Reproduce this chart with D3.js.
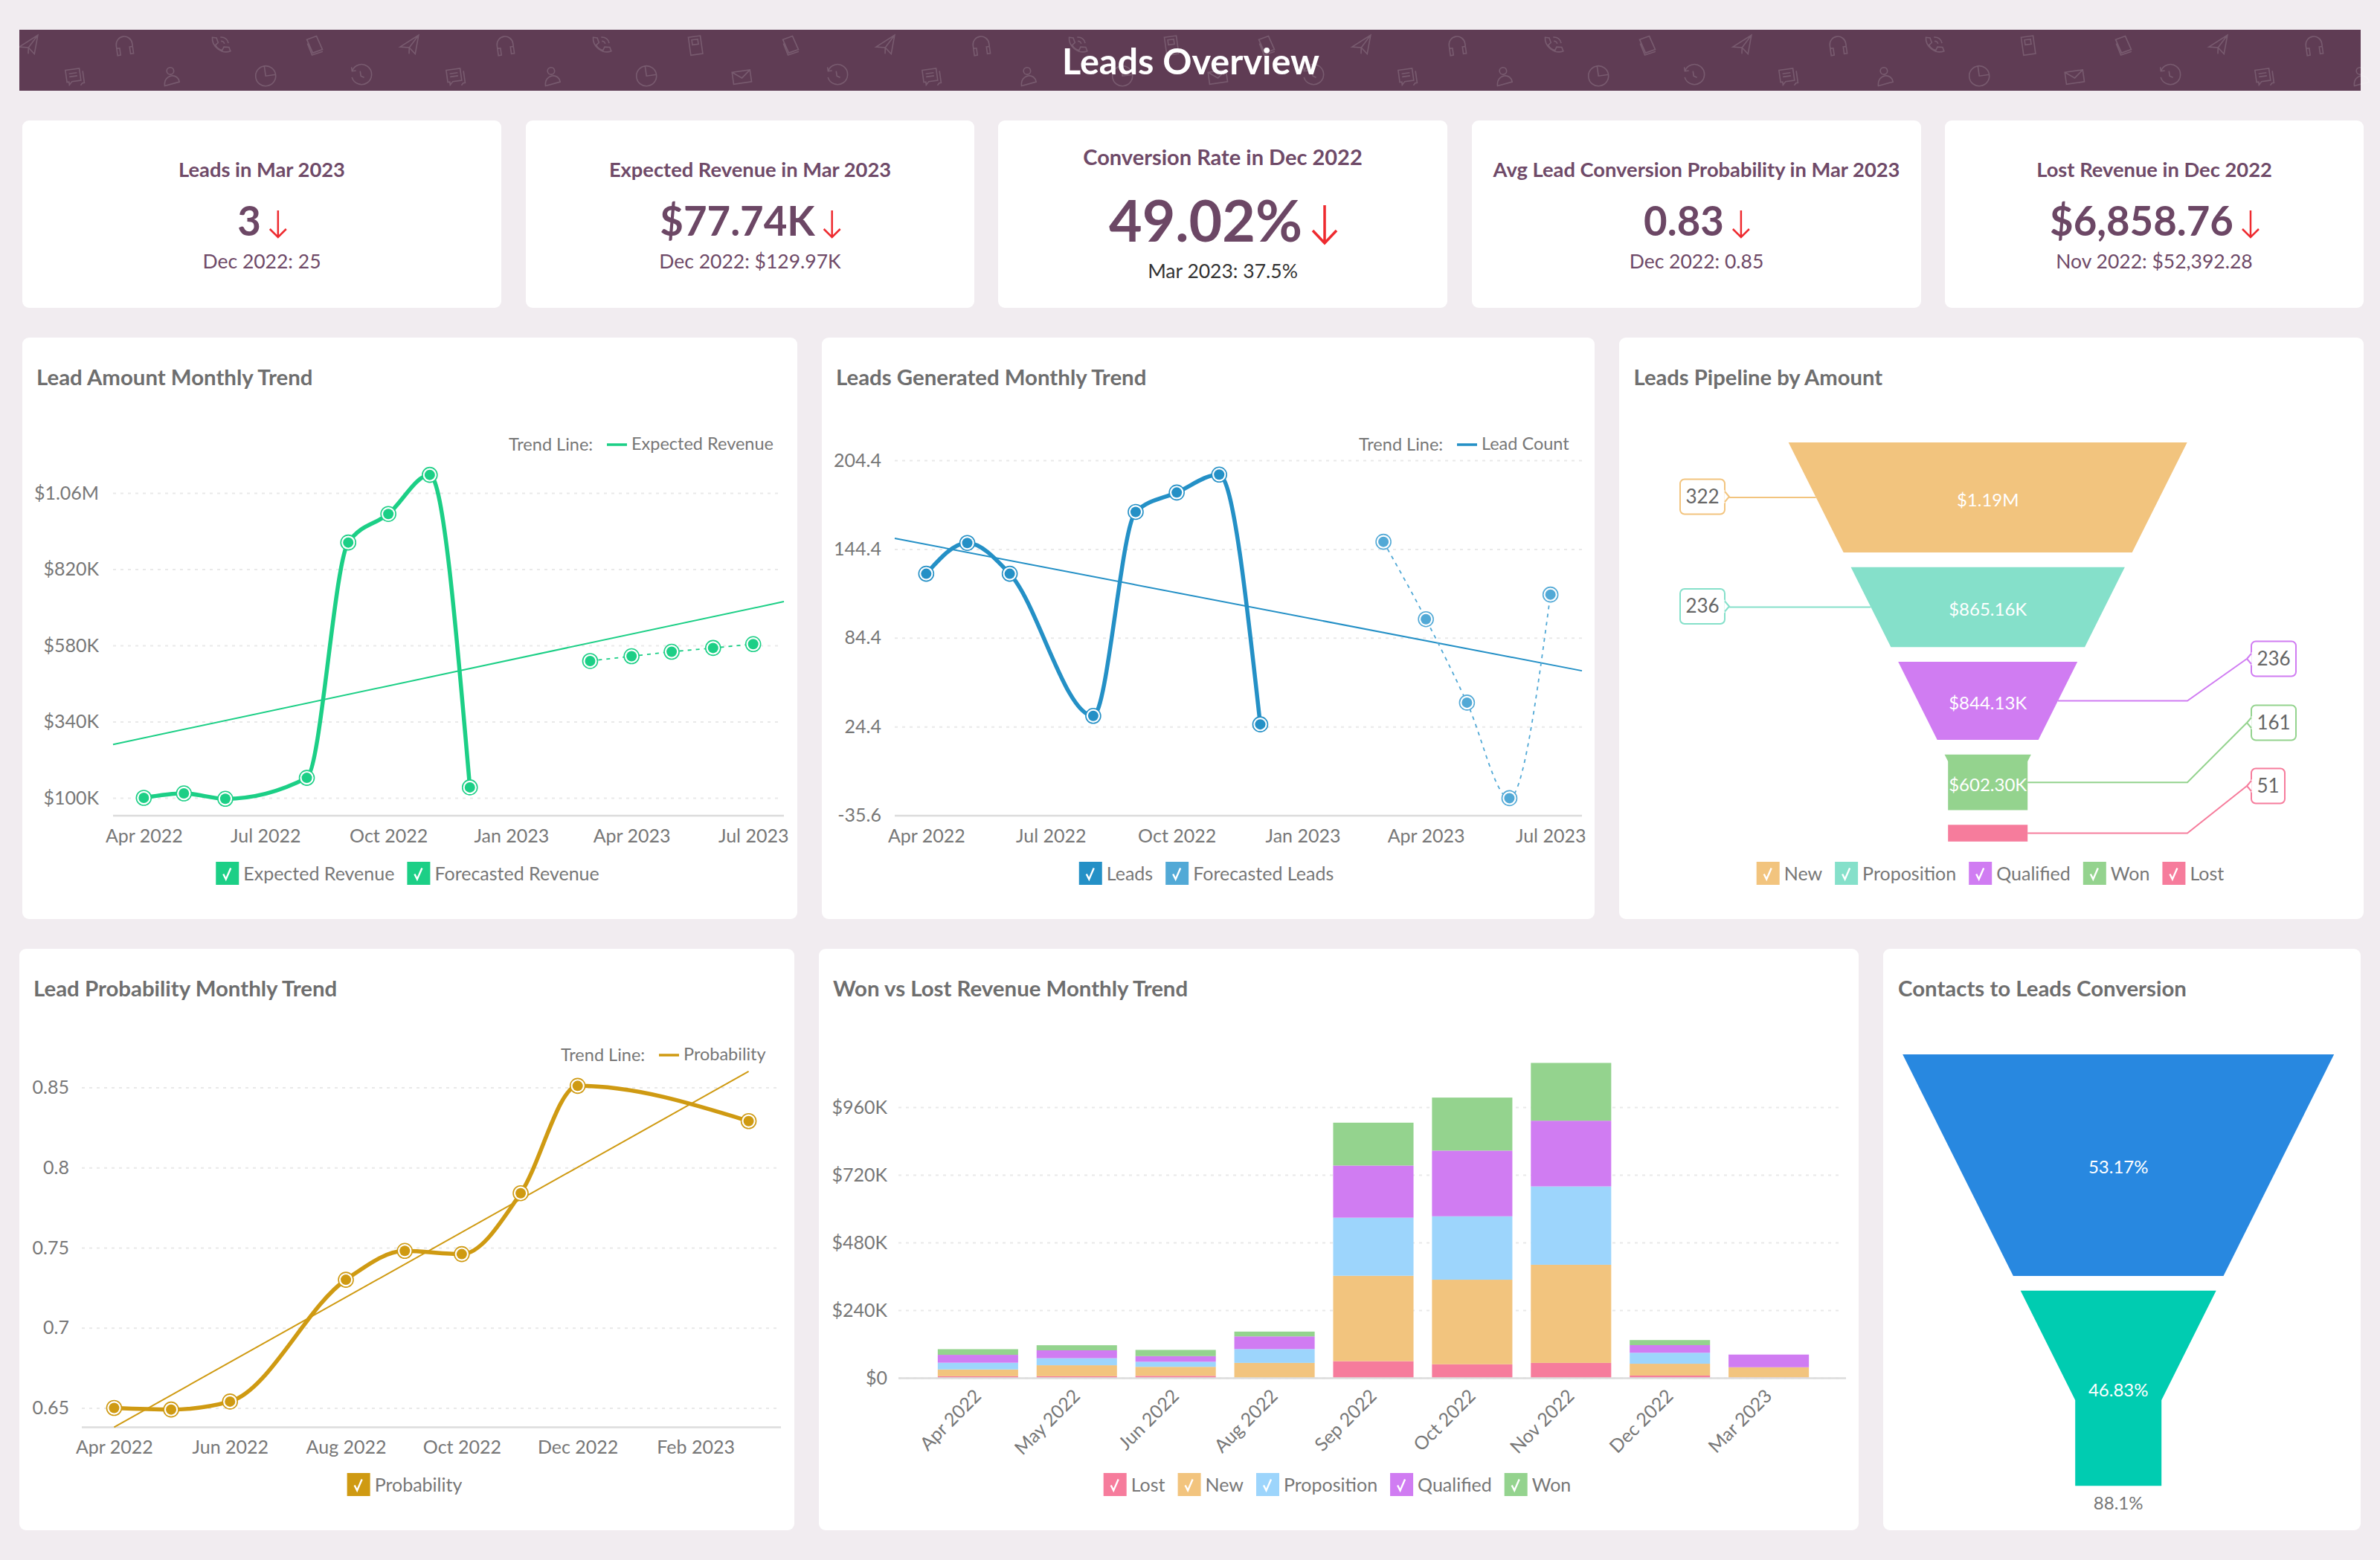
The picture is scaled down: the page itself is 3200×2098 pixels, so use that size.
<!DOCTYPE html>
<html>
<head>
<meta charset="utf-8">
<script src="https://cdn.jsdelivr.net/npm/d3@7"></script>
<style>
  body { margin: 0; background: #f1ecf0; }
  text { font-family: Lato, "Open Sans", sans-serif; }
  .grid line { stroke: #e9e9e9; stroke-width: 2; stroke-dasharray: 4 6; }
  .tick text { fill: #777; font-size: 25px; }
</style>
</head>
<body>
<svg id="dash" width="3200" height="2098"></svg>
<script>
// KPI cards
const kpiTitles = ["Leads in Mar 2023", "Expected Revenue in Mar 2023", "Conversion Rate in Dec 2022", "Avg Lead Conversion Probability in Mar 2023", "Lost Revenue in Dec 2022"];
const kpiValues = ["3", "$77.74K", "49.02%", "0.83", "$6,858.76"];
const kpiPrevious = ["Dec 2022: 25", "Dec 2022: $129.97K", "Mar 2023: 37.5%", "Dec 2022: 0.85", "Nov 2022: $52,392.28"];

// Lead amount
const actualMonths = ["Apr 2022", "May 2022", "Jun 2022", "Aug 2022", "Sep 2022", "Oct 2022", "Nov 2022", "Dec 2022"];
const forecastMonths = ["Mar 2023", "Apr 2023", "May 2023", "Jun 2023", "Jul 2023"];
const expectedRevenue = [100000, 114000, 97000, 163000, 904000, 994000, 1117000, 133000];
const forecastedRevenue = [531000, 546000, 560000, 572000, 584000];
const revenueTrend = [268000, 718000];
const revenueTicks = [100000, 340000, 580000, 820000, 1060000];
const revenueTickLabels = ["$100K", "$340K", "$580K", "$820K", "$1.06M"];
const trendXTicks = ["Apr 2022", "Jul 2022", "Oct 2022", "Jan 2023", "Apr 2023", "Jul 2023"];

// Leads generated
const leadCounts = [127.7, 148.5, 127.7, 31.6, 169.5, 182.6, 194.7, 25.9];
const forecastedLeads = [149.3, 97, 40.6, -24, 113.6];
const leadTrend = [151.6, 62.1];
const leadTicks = [-35.6, 24.4, 84.4, 144.4, 204.4];

// Probability
const probMonths = ["Apr 2022", "May 2022", "Jun 2022", "Aug 2022", "Sep 2022", "Oct 2022", "Nov 2022", "Dec 2022", "Mar 2023"];
const probValues = [0.65, 0.649, 0.654, 0.73, 0.748, 0.746, 0.784, 0.851, 0.829];
const probTrend = [0.638, 0.86];
const probTicks = [0.65, 0.7, 0.75, 0.8, 0.85];
const probXTicks = ["Apr 2022", "Jun 2022", "Aug 2022", "Oct 2022", "Dec 2022", "Feb 2023"];

// Pipeline funnel
const stages = ["New", "Proposition", "Qualified", "Won", "Lost"];
const stageAmounts = [1190000, 865160, 844130, 602300, 180000];
const stageAmountLabels = ["$1.19M", "$865.16K", "$844.13K", "$602.30K", ""];
const stageCounts = [322, 236, 236, 161, 51];

// Won vs lost stacked bars
const barMonths = ["Apr 2022", "May 2022", "Jun 2022", "Aug 2022", "Sep 2022", "Oct 2022", "Nov 2022", "Dec 2022", "Mar 2023"];
const barLost = [5600, 5600, 7000, 0, 59000, 48000, 53000, 8000, 1500];
const barNew = [24000, 39000, 32000, 53000, 303000, 300000, 348000, 42000, 36000];
const barProposition = [24000, 25000, 18000, 49000, 206000, 225000, 278000, 39000, 0];
const barQualified = [28000, 28000, 20000, 45000, 185000, 233000, 233000, 27000, 45000];
const barWon = [20000, 18000, 22000, 17000, 152000, 188000, 205000, 18000, 0];
const barTicks = [0, 240000, 480000, 720000, 960000];
const barTickLabels = ["$0", "$240K", "$480K", "$720K", "$960K"];

// Contacts funnel
const contactShares = [53.17, 46.83];
const contactConversion = "88.1%";

// header decoration order
const iconsTop = ["plane","headset","phone","book","plane","headset","phone","tablet","book","plane","headset","phone","tablet","book","plane","headset","phone","book","plane","headset","phone","tablet","book","plane","headset"];
const iconsBottom = ["chat","person","pie","clock","chat","person","pie","mail","clock","chat","person","pie","mail","clock","chat","person","pie","clock","chat","person","pie","mail","clock","chat","person"];
const iconPaths = {
  plane: "M2 12 L22 3 L16 21 L11 14 Z M11 14 L22 3 M11 14 L10 20",
  headset: "M4 14 V11 a8 8 0 0 1 16 0 V14 M4 14 h3 v7 h-3 z M17 14 h3 v7 h-3 z",
  phone: "M6 3 l4 1 1 5 -3 2 c1 3 3 5 6 6 l2 -3 5 1 1 4 c-9 2 -18 -7 -16 -16 z M14 8 a3 3 0 0 1 3 3 M14 4 a7 7 0 0 1 7 7",
  book: "M5 5 l10 -2 4 14 -10 2 z M5 5 l4 14 M5 9 l3 12 11 -2",
  tablet: "M6 3 h12 v18 h-12 z M9 6 h6 v5 h-6 z",
  chat: "M3 5 h14 v12 h-9 l-3 3 v-3 h-2 z M6 9 h8 M6 12 h8 M20 8 v12 h-2 l-2 2",
  person: "M9 7 a3.5 3.5 0 1 1 7 0 a3.5 3.5 0 1 1 -7 0 M5 21 c0 -6 4 -9 8 -9 s7 3 7 7 z",
  pie: "M2 12 a10 10 0 1 0 20 0 a10 10 0 1 0 -20 0 M12 2 v10 h10",
  clock: "M4 6 a10 10 0 1 1 -1 6 M4 2 v4 h4 M12 7 v5 l3 2",
  mail: "M3 7 h18 v12 h-18 z M3 7 l9 7 9 -7"
};

const green = "#1ccf86", blue = "#2490c6", lightBlue = "#52a9d6", gold = "#cf9a12";
const stageColors = { New: "#f2c47e", Proposition: "#85e0ca", Qualified: "#d07cf2", Won: "#94d38e", Lost: "#f67c9c" };
const barColors = { Lost: "#f67c9c", New: "#f2c47e", Proposition: "#9dd5fc", Qualified: "#d07cf2", Won: "#94d38e" };

const svg = d3.select("#dash");
const parseMonth = d3.timeParse("%b %Y");
const monthLabel = d3.timeFormat("%b %Y");

function card(x0, x1, y0, y1) {
  svg.append("rect").attr("x", x0).attr("y", y0).attr("width", x1 - x0).attr("height", y1 - y0)
    .attr("rx", 9).attr("fill", "#fff");
}

function label(parent, x, y, str, size, color, weight, anchor) {
  return parent.append("text").attr("x", x).attr("y", y).text(str)
    .attr("font-size", size).attr("fill", color)
    .attr("font-weight", weight || 400).attr("text-anchor", anchor || "start");
}

// ---- header
svg.append("rect").attr("x", 26).attr("y", 40).attr("width", 3148).attr("height", 82).attr("fill", "#5f3c54");
function iconRow(names, x0, y) {
  svg.append("g").selectAll("path").data(names).join("path")
    .attr("d", d => iconPaths[d])
    .attr("transform", (d, i) => `translate(${x0 + i * 128 - 15},${y - 17}) scale(1.35) rotate(-8 12 12)`)
    .attr("fill", "none").attr("stroke", "#fff").attr("stroke-opacity", 0.16).attr("stroke-width", 1.2);
}
iconRow(iconsTop, 38, 62);
iconRow(iconsBottom, 100, 103);
label(svg, 1601, 100, "Leads Overview", 48.6, "#fff", 700, "middle");

// ---- KPI cards
const kpiCards = [[30, 674], [707, 1310], [1342, 1946], [1979, 2583], [2615, 3178]];
kpiCards.forEach((c, i) => {
  card(c[0], c[1], 162, 414);
  const cx = (c[0] + c[1]) / 2;
  const big = i === 2;
  label(svg, cx, big ? 222 : 238, kpiTitles[i], big ? 29 : 27.3, "#6f4a68", 700, "middle");
  const val = label(svg, 0, big ? 325 : 317, kpiValues[i], big ? 77 : 54.5, "#6c4765", 700);
  const w = val.node().getComputedTextLength();
  const gap = big ? 30 : 23;
  const half = big ? 16 : 11;
  const start = cx - (w + gap + half) / 2;
  val.attr("x", start);
  const ax = start + w + gap;
  const y0 = big ? 276 : 283, y1 = big ? 327 : 319, hh = big ? 17 : 11;
  svg.append("path")
    .attr("d", `M${ax},${y0}V${y1}M${ax - half},${y1 - hh}L${ax},${y1}L${ax + half},${y1 - hh}`)
    .attr("fill", "none").attr("stroke", "#ee2b30").attr("stroke-width", big ? 3.5 : 2.5);
  label(svg, cx, big ? 374 : 361, kpiPrevious[i], 26.5, big ? "#333" : "#6f4a68", 400, "middle");
});

function legend(items, cx, y) {
  const g = svg.append("g");
  let x = 0;
  items.forEach(it => {
    g.append("rect").attr("x", x).attr("y", y - 15.5).attr("width", 31).attr("height", 31).attr("fill", it.color);
    g.append("path").attr("d", `M${x + 10},${y + 1}L${x + 13.5},${y + 8}L${x + 20},${y - 7}`)
      .attr("fill", "none").attr("stroke", "#fff").attr("stroke-width", 2.4);
    const t = label(g, x + 37, y + 9, it.name, 25, "#777");
    x += 37 + t.node().getComputedTextLength() + 17;
  });
  g.attr("transform", `translate(${cx - (x - 17) / 2},0)`);
}

function trendKey(x, y, name, color) {
  label(svg, x, y + 8, "Trend Line:", 23.5, "#777");
  svg.append("line").attr("x1", x + 132).attr("x2", x + 159).attr("y1", y).attr("y2", y)
    .attr("stroke", color).attr("stroke-width", 3.5);
  label(svg, x + 165, y + 7, name, 23.5, "#777");
}

// line chart with spline series, optional forecast and a straight trend line
function lineChart(o) {
  const x = d3.scaleTime().domain(o.xDomain.map(d => new Date(d))).range(o.xRange);
  const y = d3.scaleLinear().domain(o.yDomain).range(o.yRange);
  const g = svg.append("g");

  g.append("g").attr("class", "grid").attr("transform", `translate(${o.xRange[0]},0)`)
    .call(d3.axisLeft(y).tickValues(o.yTicks).tickSize(-(o.gridEnd - o.xRange[0])).tickPadding(o.tickPad)
      .tickFormat((d, i) => o.yLabels[i]))
    .call(a => a.select(".domain").remove());

  g.append("line").attr("x1", o.xRange[0]).attr("x2", o.xRange[1]).attr("y1", o.axisY).attr("y2", o.axisY)
    .attr("stroke", "#dcdcdc").attr("stroke-width", 2.5);
  g.append("g").attr("transform", `translate(0,${o.axisY})`)
    .call(d3.axisBottom(x).tickValues(o.xTicks.map(parseMonth)).tickSize(0).tickPadding(18).tickFormat(monthLabel))
    .call(a => a.select(".domain").remove());

  const line = d3.line().x(d => x(d.date)).y(d => y(d.value));
  const pts = (months, vals) => months.map((m, i) => ({ date: parseMonth(m), value: vals[i] }));

  g.append("path").datum(o.trendDates.map((d, i) => ({ date: new Date(d), value: o.trend[i] })))
    .attr("d", line).attr("fill", "none").attr("stroke", o.color).attr("stroke-width", 2);

  const series = [{ data: pts(o.months, o.values), color: o.color, width: 5.5, dash: null }];
  if (o.fcMonths) series.push({ data: pts(o.fcMonths, o.fcValues), color: o.fcColor, width: 1.8, dash: "5 6" });
  series.forEach(s => {
    g.append("path").datum(s.data).attr("d", line.curve(d3.curveMonotoneX))
      .attr("fill", "none").attr("stroke", s.color).attr("stroke-width", s.width)
      .attr("stroke-dasharray", s.dash);
    line.curve(d3.curveLinear);
    g.append("g").selectAll("circle").data(s.data).join("circle")
      .attr("cx", d => x(d.date)).attr("cy", d => y(d.value)).attr("r", 10)
      .attr("fill", "#fff").attr("stroke", s.color).attr("stroke-width", 1.6);
    g.append("g").selectAll("circle").data(s.data).join("circle")
      .attr("cx", d => x(d.date)).attr("cy", d => y(d.value)).attr("r", 7).attr("fill", s.color);
  });
}

// ---- row 2
card(30, 1072, 454, 1236);
label(svg, 49, 518, "Lead Amount Monthly Trend", 29.4, "#6e6e6e", 700);
trendKey(684, 598, "Expected Revenue", green);
lineChart({
  xDomain: ["2022-03-09T00:00", "2023-07-24T00:00"], xRange: [152, 1054], gridEnd: 1050,
  yDomain: [100000, 1060000], yRange: [1073, 663], axisY: 1097, tickPad: 19,
  yTicks: revenueTicks, yLabels: revenueTickLabels, xTicks: trendXTicks,
  months: actualMonths, values: expectedRevenue, color: green,
  fcMonths: forecastMonths, fcValues: forecastedRevenue, fcColor: green,
  trendDates: ["2022-03-09T00:00", "2023-07-24T00:00"], trend: revenueTrend
});
legend([{ name: "Expected Revenue", color: green }, { name: "Forecasted Revenue", color: green }], 548, 1174.5);

card(1105, 2144, 454, 1236);
label(svg, 1124, 518, "Leads Generated Monthly Trend", 29.4, "#6e6e6e", 700);
trendKey(1827, 598, "Lead Count", blue);
lineChart({
  xDomain: ["2022-03-09T00:00", "2023-07-24T00:00"], xRange: [1203, 2127], gridEnd: 2127,
  yDomain: [-35.6, 204.4], yRange: [1096.5, 619], axisY: 1097, tickPad: 18,
  yTicks: leadTicks, yLabels: leadTicks.map(String), xTicks: trendXTicks,
  months: actualMonths, values: leadCounts, color: blue,
  fcMonths: forecastMonths, fcValues: forecastedLeads, fcColor: lightBlue,
  trendDates: ["2022-03-09T00:00", "2023-07-24T00:00"], trend: leadTrend
});
legend([{ name: "Leads", color: blue }, { name: "Forecasted Leads", color: lightBlue }], 1622, 1174.5);

// funnel segments: heights follow the values, width narrows to a neck
function funnel(values, o) {
  const h = d3.scaleLinear().domain([0, o.maxValue]).range([0, o.maxHeight]);
  const width = d3.scaleLinear().domain([o.topY, o.neckY]).range([o.topW, o.neckW]).clamp(true);
  let cur = o.topY;
  return values.map(v => {
    const y0 = cur, y1 = cur + h(v);
    cur = y1 + o.gap;
    const ys = y0 < o.neckY && y1 > o.neckY ? [y0, o.neckY, y1] : [y0, y1];
    const poly = ys.map(y => [o.cx + width(y) / 2, y]).concat(ys.slice().reverse().map(y => [o.cx - width(y) / 2, y]));
    const mid = (y0 + y1) / 2;
    return { poly, y0, y1, mid, halfMid: width(mid) / 2 };
  });
}
const polyPath = d3.line().curve(d3.curveLinearClosed);

// ---- pipeline funnel
card(2177, 3178, 454, 1236);
label(svg, 2196.5, 518, "Leads Pipeline by Amount", 29.2, "#6e6e6e", 700);
const pipeCx = 2672.7;
const pipeSegs = funnel(stageAmounts, { cx: pipeCx, topY: 595, neckY: 1024, topW: 536, neckW: 107, gap: 19.7, maxValue: 1190000, maxHeight: 148 });
const calloutY = [668, 815.5, 886, 972, 1057];
pipeSegs.forEach((s, i) => {
  const color = stageColors[stages[i]];
  svg.append("path").attr("d", polyPath(s.poly)).attr("fill", color);
  if (stageAmountLabels[i]) label(svg, pipeCx, s.mid + 12, stageAmountLabels[i], 24, "#fff", 400, "middle");

  const left = i < 2;
  const boxW = String(stageCounts[i]).length === 2 ? 45 : 60;
  const boxX = left ? 2259 : 3027;
  const cy = calloutY[i];
  const tipX = left ? boxX + boxW + 6 : boxX - 6;
  const edge = pipeCx + (left ? -s.halfMid : s.halfMid);
  const conn = left ? `M${tipX},${s.mid}H${edge}` : `M${edge},${s.mid}H2941L${tipX},${cy}`;
  svg.append("path").attr("d", conn).attr("fill", "none").attr("stroke", color).attr("stroke-width", 2);
  svg.append("rect").attr("x", boxX).attr("y", cy - 23.5).attr("width", boxW).attr("height", 47).attr("rx", 6)
    .attr("fill", "#fff").attr("stroke", color).attr("stroke-width", 2);
  const edgeX = left ? boxX + boxW : boxX;
  svg.append("path").attr("d", `M${edgeX},${cy - 7}L${tipX},${cy}L${edgeX},${cy + 7}Z`)
    .attr("fill", "#fff").attr("stroke", "#fff").attr("stroke-width", 1.6);
  svg.append("path").attr("d", `M${edgeX},${cy - 7}L${tipX},${cy}L${edgeX},${cy + 7}`)
    .attr("fill", "none").attr("stroke", color).attr("stroke-width", 2);
  label(svg, boxX + boxW / 2, cy + 8.5, stageCounts[i], 26, "#666", 400, "middle");
});
legend(stages.map(s => ({ name: s, color: stageColors[s] })), 2676, 1174.5);

// ---- row 3
card(26, 1068, 1276, 2058);
label(svg, 45, 1340, "Lead Probability Monthly Trend", 29.4, "#6e6e6e", 700);
trendKey(754, 1419, "Probability", gold);
lineChart({
  xDomain: ["2022-03-15T00:00", "2023-03-18T00:00"], xRange: [110, 1050], gridEnd: 1047,
  yDomain: [0.65, 0.85], yRange: [1893.5, 1462.5], axisY: 1919.5, tickPad: 17,
  yTicks: probTicks, yLabels: probTicks.map(String), xTicks: probXTicks,
  months: probMonths, values: probValues, color: gold,
  trendDates: ["2022-04-01T00:00", "2023-03-01T00:00"], trend: probTrend
});
legend([{ name: "Probability", color: gold }], 544, 1996.5);

// ---- stacked bars
card(1101, 2499, 1276, 2058);
label(svg, 1120, 1340, "Won vs Lost Revenue Monthly Trend", 29.4, "#6e6e6e", 700);
const barKeys = ["Lost", "New", "Proposition", "Qualified", "Won"];
const barRows = barMonths.map((m, i) => ({ month: m, Lost: barLost[i], New: barNew[i], Proposition: barProposition[i], Qualified: barQualified[i], Won: barWon[i] }));
const barX = d3.scaleBand().domain(barMonths).range([1236, 2457]).padding(0.187);
const barY = d3.scaleLinear().domain([0, 960000]).range([1853, 1489]);

svg.append("g").attr("class", "grid").attr("transform", "translate(1208,0)")
  .call(d3.axisLeft(barY).tickValues(barTicks).tickSize(-1270).tickPadding(15).tickFormat((d, i) => barTickLabels[i]))
  .call(a => a.select(".domain").remove());

svg.append("g").selectAll("g").data(d3.stack().keys(barKeys)(barRows)).join("g")
  .attr("fill", d => barColors[d.key])
  .selectAll("rect").data(d => d).join("rect")
  .attr("x", d => barX(d.data.month)).attr("width", barX.bandwidth())
  .attr("y", d => barY(d[1])).attr("height", d => barY(d[0]) - barY(d[1]));

svg.append("line").attr("x1", 1208).attr("x2", 2482).attr("y1", 1853.5).attr("y2", 1853.5)
  .attr("stroke", "#dcdcdc").attr("stroke-width", 2.5);
svg.append("g").attr("transform", "translate(0,1853)")
  .call(d3.axisBottom(barX).tickSize(0))
  .call(a => a.select(".domain").remove())
  .selectAll("text").attr("text-anchor", "end").attr("dy", 0).attr("y", 0)
  .attr("transform", "translate(6,26) rotate(-45)");
legend(barKeys.map(k => ({ name: k, color: barColors[k] })), 1798, 1996.5);

// ---- contacts funnel
card(2532, 3174, 1276, 2058);
label(svg, 2552, 1340, "Contacts to Leads Conversion", 29.4, "#6e6e6e", 700);
const contactCx = 2848.2;
const contactColors = ["#2888e0", "#00ccb1"];
funnel(contactShares, { cx: contactCx, topY: 1418, neckY: 1883, topW: 580, neckW: 116, gap: 19.7, maxValue: 53.17, maxHeight: 298 })
  .forEach((s, i) => {
    svg.append("path").attr("d", polyPath(s.poly)).attr("fill", contactColors[i]);
    label(svg, contactCx, s.mid + 11, contactShares[i] + "%", 24, "#fff", 400, "middle");
  });
label(svg, contactCx, 2030, contactConversion, 24, "#777", 400, "middle");
</script>
</body>
</html>
